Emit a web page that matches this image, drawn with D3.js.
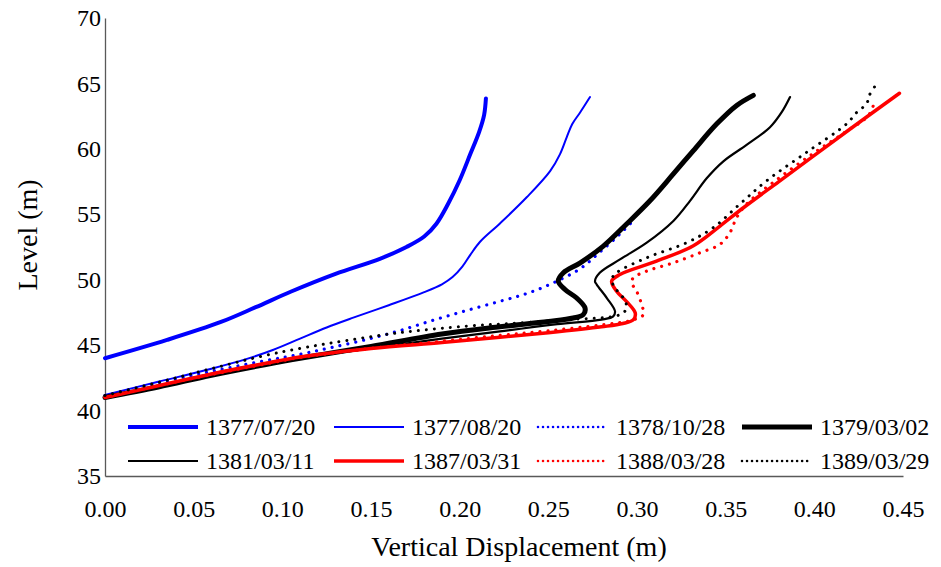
<!DOCTYPE html>
<html>
<head>
<meta charset="utf-8">
<script src="https://cdn.jsdelivr.net/npm/d3@7"></script>
<style>
  body { margin: 0; background: #fff; }
  svg { display: block; }
  text { font-family: "Liberation Serif", "Times New Roman", serif; fill: #000; }
</style>
</head>
<body>
<svg id="chart" width="941" height="567"></svg>
<script>
// Tick values
const xTicks = [0, 0.05, 0.10, 0.15, 0.20, 0.25, 0.30, 0.35, 0.40, 0.45];
const yTicks = [35, 40, 45, 50, 55, 60, 65, 70];

// Survey dates (legend order)
const surveyDates = ["1377/07/20", "1377/08/20", "1378/10/28", "1379/03/02",
                     "1381/03/11", "1387/03/31", "1388/03/28", "1389/03/29"];

// Each profile: [vertical displacement (m), level (m)]
const p13770720 = [[0,44.0],[0.035,45.4],[0.065,46.75],[0.085,47.9],[0.105,49.1],[0.13,50.45],[0.155,51.6],
  [0.17,52.5],[0.18,53.3],[0.187,54.3],[0.1935,55.8],[0.2,57.6],[0.206,59.6],[0.211,61.3],[0.2138,62.6],
  [0.2148,63.85]];
const p13770820 = [[0,41.2],[0.03,42.2],[0.06,43.2],[0.08,43.95],[0.095,44.65],[0.11,45.5],[0.125,46.35],
  [0.14,47.1],[0.16,48.05],[0.18,49.05],[0.19,49.65],[0.196,50.2],[0.2015,51.0],[0.206,51.9],[0.2115,52.9],
  [0.2227,54.3],[0.2378,56.3],[0.251,58.3],[0.2566,59.6],[0.2604,60.9],[0.2635,61.9],[0.268,62.8],[0.2735,63.96]];
const p13781028 = [[0,41.15],[0.03,42.1],[0.06,43.0],[0.09,43.8],[0.11,44.3],[0.127,44.8],[0.148,45.45],
  [0.166,46.1],[0.185,46.9],[0.204,47.65],[0.2227,48.35],[0.238,48.95],[0.2528,49.76],[0.268,50.85],
  [0.279,52.1],[0.2904,53.5],[0.297,54.4]];
const p13790302 = [[0,41.0],[0.03,41.8],[0.06,42.7],[0.09,43.5],[0.11,44.0],[0.15,44.9],[0.19,45.85],
  [0.2227,46.4],[0.25,46.8],[0.264,47.07],[0.2697,47.33],[0.2707,47.84],[0.266,48.6],[0.2594,49.25],[0.2556,49.89],
  [0.2585,50.53],[0.268,51.29],[0.281,52.57],[0.294,54.24],[0.3073,56.03],[0.3205,58.08],[0.3318,59.87],
  [0.345,61.91],[0.3562,63.32],[0.3656,64.09]];
const p13810311 = [[0,41.0],[0.03,41.85],[0.06,42.7],[0.09,43.5],[0.11,44.0],[0.15,44.75],[0.19,45.5],
  [0.2227,46.05],[0.255,46.6],[0.28,46.95],[0.2866,47.2],[0.2876,47.59],[0.283,48.6],[0.2773,49.63],[0.2763,49.89],
  [0.279,50.53],[0.2904,51.55],[0.3055,52.83],[0.3205,54.49],[0.3299,56.03],[0.3393,57.75],[0.3487,59.05],
  [0.3618,60.3],[0.375,61.65],[0.3816,62.8],[0.3863,63.96]];
const p13870331 = [[0,41.0],[0.03,41.9],[0.06,42.8],[0.09,43.6],[0.11,44.1],[0.15,44.75],[0.19,45.2],
  [0.2227,45.6],[0.25,45.95],[0.28,46.4],[0.292,46.65],[0.298,46.95],[0.299,47.46],[0.294,48.35],[0.2885,49.12],
  [0.2857,49.89],[0.2904,50.4],[0.311,51.42],[0.3318,52.6],[0.3468,54.1],[0.36,55.5],[0.38,57.5],[0.40,59.5],
  [0.42,61.5],[0.448,64.25]];
const p13880328 = [[0,41.0],[0.03,41.9],[0.06,42.75],[0.09,43.55],[0.11,44.05],[0.15,44.75],[0.19,45.3],
  [0.2227,45.75],[0.25,46.1],[0.28,46.55],[0.297,46.9],[0.3036,47.33],[0.3026,48.1],[0.2998,49.12],[0.297,49.76],
  [0.2979,50.14],[0.3055,50.66],[0.3205,51.29],[0.3355,52.06],[0.3468,52.7],[0.3524,53.6],[0.3562,54.75],
  [0.3618,55.78],[0.3769,57.45],[0.3994,59.65],[0.4182,61.35],[0.4305,62.55],[0.4342,63.7]];
const p13890329 = [[0,41.15],[0.03,42.15],[0.06,43.2],[0.09,44.2],[0.11,44.75],[0.129,45.2],[0.166,45.95],
  [0.204,46.45],[0.234,46.7],[0.26,46.95],[0.2904,47.33],[0.2942,47.84],[0.2923,48.6],[0.2876,49.38],
  [0.2857,50.02],[0.2885,50.53],[0.3055,51.68],[0.328,52.83],[0.343,53.98],[0.358,55.78],[0.3731,57.56],
  [0.3957,59.74],[0.4182,61.91],[0.424,62.8],[0.4295,63.45],[0.431,64.09],[0.4352,64.98]];

const profiles = [p13770720, p13770820, p13781028, p13790302, p13810311, p13870331, p13880328, p13890329];

// Line styles per survey
const styles = [
  { color: "#0000ff", width: 4,   dotted: false },
  { color: "#0000ff", width: 2,   dotted: false },
  { color: "#0000ff", width: 3.2, dotted: true  },
  { color: "#000000", width: 5,   dotted: false },
  { color: "#000000", width: 2.2, dotted: false },
  { color: "#ff0000", width: 3.5, dotted: false },
  { color: "#ff0000", width: 3.2, dotted: true  },
  { color: "#000000", width: 3,   dotted: true  }
];

const svg = d3.select("#chart");
const plotLeft = 105, plotRight = 903, plotTop = 18, plotBottom = 476;

const x = d3.scaleLinear().domain([0, 0.45]).range([plotLeft, plotRight]);
const y = d3.scaleLinear().domain([35, 70]).range([plotBottom, plotTop]);

const axisColor = "#595959";

// Axes
const gx = svg.append("g").attr("transform", `translate(0,${plotBottom})`)
  .call(d3.axisBottom(x).tickValues(xTicks).tickFormat(d3.format(".2f")).tickSize(0).tickPadding(24));
const gy = svg.append("g").attr("transform", `translate(${plotLeft},0)`)
  .call(d3.axisLeft(y).tickValues(yTicks).tickFormat(d3.format("d")).tickSize(0).tickPadding(4));
[gx, gy].forEach(g => {
  g.select(".domain").attr("stroke", axisColor).attr("stroke-width", 1.3);
  g.selectAll("text").attr("font-size", 24).attr("fill", "#000");
});

// Profiles
const line = d3.line().x(d => x(d[0])).y(d => y(d[1])).curve(d3.curveCatmullRom.alpha(0.5));
const plot = svg.append("g");
profiles.forEach((p, i) => {
  const s = styles[i];
  plot.append("path")
    .datum(p)
    .attr("d", line)
    .attr("fill", "none")
    .attr("stroke", s.color)
    .attr("stroke-width", s.width)
    .attr("stroke-linecap", "round")
    .attr("stroke-linejoin", "round")
    .attr("stroke-dasharray", s.dotted ? "0.01 8" : null);
});

// Legend: two rows of four entries
const legendCols = [128, 334, 538, 742];
const legendRows = [427, 461];
const legend = svg.append("g");
surveyDates.forEach((name, i) => {
  const s = styles[i];
  const cx = legendCols[i % 4], cy = legendRows[Math.floor(i / 4)];
  legend.append("line")
    .attr("x1", cx).attr("x2", cx + 70).attr("y1", cy).attr("y2", cy)
    .attr("stroke", s.color)
    .attr("stroke-width", s.dotted ? 2.6 : s.width)
    .attr("stroke-linecap", s.dotted ? "round" : "butt")
    .attr("stroke-dasharray", s.dotted ? "0.01 5" : null);
  legend.append("text")
    .attr("x", cx + 78).attr("y", cy)
    .attr("dy", "0.34em")
    .attr("font-size", 24)
    .text(name);
});

// Axis titles
svg.append("text")
  .attr("x", (plotLeft + plotRight) / 2 + 15).attr("y", 556)
  .attr("text-anchor", "middle")
  .attr("font-size", 28)
  .text("Vertical Displacement (m)");
svg.append("text")
  .attr("transform", `translate(37,235) rotate(-90)`)
  .attr("text-anchor", "middle")
  .attr("font-size", 28)
  .text("Level (m)");
</script>
</body>
</html>
